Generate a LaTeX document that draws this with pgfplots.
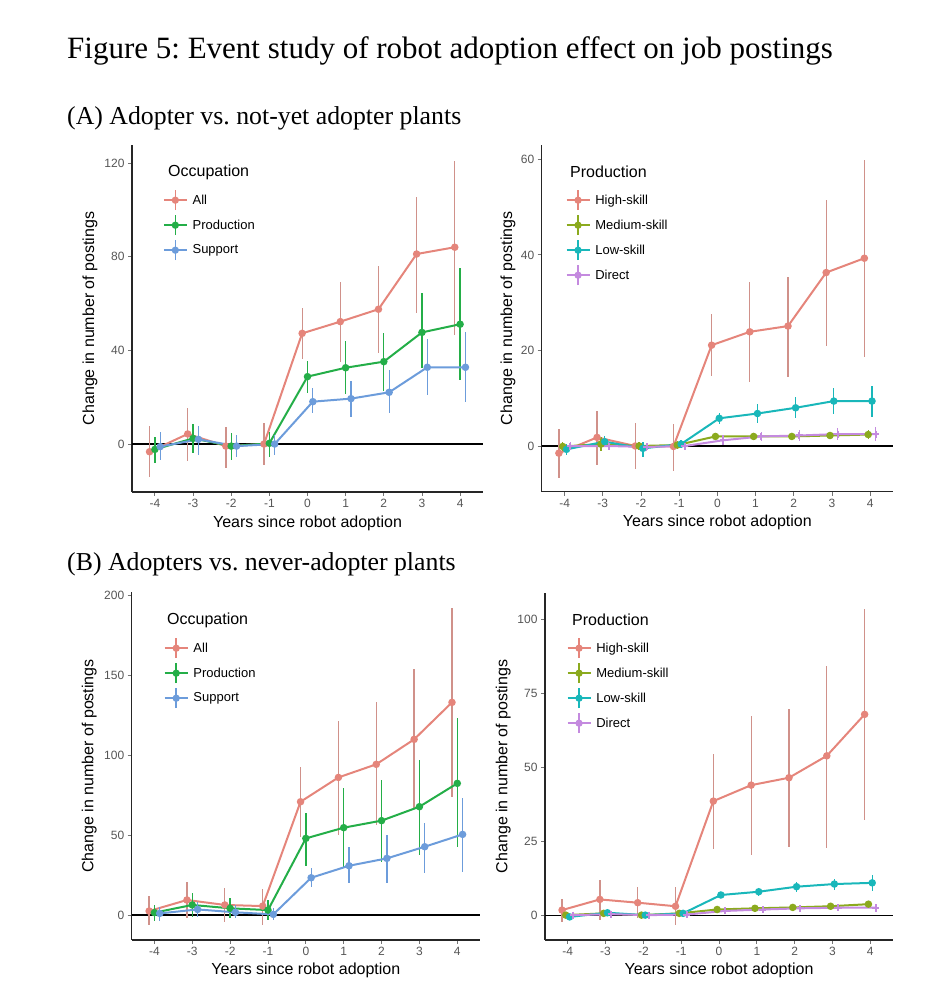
\documentclass[border=0pt]{standalone}
\usepackage{fontspec}
\setmainfont{Liberation Serif}
\newfontfamily\sansf{Liberation Sans}
\usepackage{pgfplots}
\pgfplotsset{compat=1.18}
\usepackage{pgfplotstable}
\frenchspacing

\definecolor{cRed}{HTML}{E5857B}
\definecolor{cRedE}{HTML}{D0918A}
\definecolor{cGreen}{HTML}{24AE48}
\definecolor{cBlue}{HTML}{6C9CDB}
\definecolor{cOlive}{HTML}{8BAA1E}
\definecolor{cTeal}{HTML}{19B7BA}
\definecolor{cPurple}{HTML}{C48ADF}
\definecolor{tickgray}{HTML}{555555}

% ---------------- Panel A, left ----------------
\pgfplotstableread{
t y lo hi
-4 -3.3 -14.3 7.7
-3 4.3 -7.3 15.3
-2 -0.9 -10.4 7.4
-1 0.0 -9.0 8.8
0 47.3 36.2 58.0
1 52.3 35.2 69.1
2 57.6 38.8 76.1
3 81.2 56.1 105.7
4 84.1 46.6 121.1
}\ALall
\pgfplotstableread{
t y lo hi
-4 -2.3 -8.3 3.1
-3 2.4 -3.7 8.6
-2 -0.9 -6.8 4.6
-1 0.3 -5.4 5.3
0 28.8 21.9 35.6
1 32.6 21.4 44.0
2 35.2 22.8 47.6
3 47.7 32.3 64.4
4 51.2 27.4 75.1
}\ALprod
\pgfplotstableread{
t y lo hi
-4 -1.1 -6.8 5.3
-3 2.0 -4.7 7.8
-2 -0.9 -5.4 3.8
-1 0.0 -4.7 3.8
0 18.1 13.1 23.8
1 19.4 11.7 27.1
2 22.1 13.4 31.6
3 32.8 20.9 44.7
4 32.8 18.1 48.0
}\ALsupp
% ---------------- Panel A, right ----------------
\pgfplotstableread{
t y lo hi
-4 -1.5 -6.6 3.5
-3 1.8 -4.0 7.4
-2 0.0 -4.9 4.9
-1 -0.1 -5.2 4.6
0 21.1 14.7 27.6
1 23.9 13.5 34.4
2 25.1 14.4 35.4
3 36.3 20.9 51.5
4 39.3 18.6 59.9
}\ARhigh
\pgfplotstableread{
t y lo hi
-4 -0.1 -1.1 0.9
-3 0.4 -1.0 1.8
-2 0.0 -0.8 0.8
-1 0.2 -0.6 1.0
0 2.0 1.4 2.6
1 2.0 1.4 2.6
2 2.0 1.4 2.6
3 2.2 1.5 2.9
4 2.4 1.4 3.4
}\ARmed
\pgfplotstableread{
t y lo hi
-4 -0.7 -1.9 0.4
-3 0.9 -0.1 2.0
-2 -0.5 -2.2 0.9
-1 0.4 -0.5 1.3
0 5.8 4.6 7.0
1 6.8 4.9 8.8
2 8.0 5.8 10.2
3 9.4 6.8 12.1
4 9.4 6.0 12.6
}\ARlow
\pgfplotstableread{
t y lo hi
-4 0.0 -0.8 0.8
-3 0.0 -0.8 0.8
-2 -0.2 -1.0 0.6
-1 0.0 -0.7 0.7
0 1.2 0.2 2.2
1 2.0 1.0 3.0
2 2.2 1.1 3.3
3 2.5 1.2 3.8
4 2.5 1.0 4.0
}\ARdir
% ---------------- Panel B, left ----------------
\pgfplotstableread{
t y lo hi
-4 2.5 -6.3 11.9
-3 9.4 -2.1 20.8
-2 6.3 -4.2 16.7
-1 5.6 -6.3 16.0
0 70.8 49.0 92.7
1 86.0 50.0 121.5
2 94.2 56.3 132.9
3 109.8 67.1 153.5
4 132.9 73.5 191.7
}\BLall
\pgfplotstableread{
t y lo hi
-4 1.5 -3.5 6.3
-3 6.3 -1.0 13.5
-2 4.2 -2.1 10.4
-1 3.1 -3.1 9.4
0 47.9 30.6 64.0
1 54.6 30.2 79.2
2 59.0 33.3 84.4
3 67.7 37.5 96.9
4 82.3 42.7 122.9
}\BLprod
\pgfplotstableread{
t y lo hi
-4 1.0 -3.5 5.2
-3 3.5 -1.0 8.3
-2 1.7 -2.1 6.3
-1 0.4 -3.1 4.2
0 23.3 17.7 29.2
1 30.8 19.8 42.7
2 35.4 20.2 50.0
3 42.7 26.5 57.3
4 50.4 27.1 73.3
}\BLsupp
% ---------------- Panel B, right ----------------
\pgfplotstableread{
t y lo hi
-4 1.7 -2.3 5.3
-3 5.3 -1.5 12.0
-2 4.2 -1.1 9.6
-1 3.0 -3.4 9.6
0 38.5 22.2 54.3
1 43.9 20.3 67.3
2 46.4 22.9 69.5
3 53.8 22.7 84.1
4 67.8 32.1 103.3
}\BRhigh
\pgfplotstableread{
t y lo hi
-4 0.0 -1.0 1.0
-3 0.6 -0.6 1.8
-2 0.0 -0.8 0.8
-1 0.6 -0.4 1.6
0 1.9 1.2 2.6
1 2.3 1.5 3.1
2 2.6 1.8 3.4
3 3.0 2.1 3.9
4 3.7 2.6 4.8
}\BRmed
\pgfplotstableread{
t y lo hi
-4 -0.6 -1.2 0.0
-3 0.8 -0.2 1.8
-2 0.0 -0.7 0.7
-1 0.6 -0.2 1.4
0 6.8 5.9 7.7
1 7.9 6.4 9.0
2 9.6 7.7 11.3
3 10.5 8.4 12.2
4 10.9 8.2 13.5
}\BRlow
\pgfplotstableread{
t y lo hi
-4 0.0 -0.6 0.6
-3 0.3 -0.5 1.1
-2 0.0 -0.6 0.6
-1 0.2 -0.5 0.9
0 1.4 0.6 2.2
1 1.9 1.0 2.8
2 2.3 1.3 3.3
3 2.5 1.4 3.6
4 2.5 1.2 3.8
}\BRdir

\pgfplotsset{
  evstudy/.style={
    scale only axis,
    axis x line*=bottom, axis y line*=left,
    axis line style={-, black!85, line width=1.1bp},
    xmin=-4.6, xmax=4.6,
    xtick={-4,-3,-2,-1,0,1,2,3,4},
    xticklabels={-4,-3,-2,-1,0,1,2,3,4},
    tick align=outside, major tick length=4bp,
    tick style={black!55, line width=0.8bp},
    tick label style={font=\sansf\fontsize{12bp}{14bp}\selectfont, text=tickgray},
    label style={font=\sansf\fontsize{16bp}{19bp}\selectfont},
    xlabel={Years since robot adoption},
    ylabel={Change in number of postings},
    legend cell align=left,
    legend style={draw=none, fill=none, inner sep=0pt, row sep=0pt,
      anchor=north west,
      font=\sansf\fontsize{13bp}{15bp}\selectfont,
      nodes={inner ysep=0pt, inner xsep=5bp, minimum height=25bp}},
    legend image code/.code={
      \draw[line width=1.5bp] (0bp,0bp) -- (23bp,0bp);
      \draw[line width=1.5bp] (11.5bp,-10bp) -- (11.5bp,10bp);
      \fill (11.5bp,0bp) circle (2.6bp);
    },
  },
  ser/.style={color=#1, line width=2bp, mark=*, mark size=2.7bp,
    mark options={solid, fill=#1},
    error bars/.cd, y dir=both, y explicit, error mark=none,
    error bar style={line width=1.3bp, color=#1}, /pgfplots/.cd},
  serE/.style 2 args={color=#1, line width=2bp, mark=*, mark size=2.7bp,
    mark options={solid, fill=#1},
    error bars/.cd, y dir=both, y explicit, error mark=none,
    error bar style={line width=1.3bp, color=#2}, /pgfplots/.cd},
  table/etab/.style={x expr=\thisrow{t}+#1, y=y,
    y error plus expr=\thisrow{hi}-\thisrow{y},
    y error minus expr=\thisrow{y}-\thisrow{lo}},
}

\begin{document}
\begin{tikzpicture}[x=1bp,y=1bp]
\useasboundingbox (0,0) rectangle (950,990);

\node[anchor=base west, inner sep=0, font=\fontsize{31bp}{37bp}\selectfont]
  at (67bp,931bp) {Figure 5: Event study of robot adoption effect on job postings};
\node[anchor=base west, inner sep=0, font=\fontsize{25.8bp}{30bp}\selectfont]
  at (67bp,865bp) {(A) Adopter vs. not-yet adopter plants};
\node[anchor=base west, inner sep=0, font=\fontsize{25.8bp}{30bp}\selectfont]
  at (67bp,419bp) {(B) Adopters vs. never-adopter plants};

% ===== A left =====
\begin{axis}[evstudy, at={(132bp,498bp)}, anchor=south west,
  width=351bp, height=347bp, ymin=-20.5, ymax=127.8,
  ytick={0,40,80,120}, yticklabels={0,40,80,120},
  xlabel style={at={(axis description cs:0.5,-0.089)}, anchor=center},
  ylabel style={at={(axis description cs:-0.12,0.5)}, anchor=center},
  legend style={at={(0.088,0.8775)}}]
\addplot[black, line width=1.2bp, forget plot] coordinates {(-4.6,0) (4.6,0)};
\addplot[serE={cRed}{cRedE}] table[etab=-0.14] {\ALall};
\addplot[ser=cGreen] table[etab=0] {\ALprod};
\addplot[ser=cBlue] table[etab=0.14] {\ALsupp};
\legend{All,Production,Support}
\end{axis}
\node[anchor=west, inner sep=0, font=\sansf\fontsize{16bp}{19bp}\selectfont] at (168bp,818bp) {Occupation};

% ===== A right =====
\begin{axis}[evstudy, at={(541.7bp,498.3bp)}, anchor=south west,
  width=351.3bp, height=346.7bp, ymin=-9.56, ymax=63.0,
  ytick={0,20,40,60}, yticklabels={0,20,40,60},
  xlabel style={at={(axis description cs:0.5,-0.089)}, anchor=center},
  ylabel style={at={(axis description cs:-0.096,0.5)}, anchor=center},
  legend style={at={(0.068,0.8774)}}]
\addplot[black, line width=1.2bp, forget plot] coordinates {(-4.6,0) (4.6,0)};
\addplot[serE={cRed}{cRedE}] table[etab=-0.15] {\ARhigh};
\addplot[ser=cOlive] table[etab=-0.05] {\ARmed};
\addplot[ser=cTeal] table[etab=0.05] {\ARlow};
\addplot[ser=cPurple, mark=+, mark size=3.5bp] table[etab=0.15] {\ARdir};
\legend{High-skill,Medium-skill,Low-skill,Direct}
\end{axis}
\node[anchor=west, inner sep=0, font=\sansf\fontsize{16bp}{19bp}\selectfont] at (570bp,818bp) {Production};

% ===== B left =====
\begin{axis}[evstudy, at={(131.7bp,50bp)}, anchor=south west,
  width=348.3bp, height=348bp, ymin=-15.6, ymax=201.9,
  ytick={0,50,100,150,200}, yticklabels={0,50,100,150,200},
  xlabel style={at={(axis description cs:0.5,-0.086)}, anchor=center},
  ylabel style={at={(axis description cs:-0.122,0.5)}, anchor=center},
  legend style={at={(0.092,0.875)}}]
\addplot[black, line width=1.2bp, forget plot] coordinates {(-4.6,0) (4.6,0)};
\addplot[serE={cRed}{cRedE}] table[etab=-0.14] {\BLall};
\addplot[ser=cGreen] table[etab=0] {\BLprod};
\addplot[ser=cBlue] table[etab=0.14] {\BLsupp};
\legend{All,Production,Support}
\end{axis}
\node[anchor=west, inner sep=0, font=\sansf\fontsize{16bp}{19bp}\selectfont] at (167bp,370bp) {Occupation};

% ===== B right =====
\begin{axis}[evstudy, at={(545bp,50bp)}, anchor=south west,
  width=348bp, height=347.3bp, ymin=-8.4, ymax=108.9,
  ytick={0,25,50,75,100}, yticklabels={0,25,50,75,100},
  xlabel style={at={(axis description cs:0.5,-0.086)}, anchor=center},
  ylabel style={at={(axis description cs:-0.12,0.5)}, anchor=center},
  legend style={at={(0.062,0.8768)}}]
\addplot[black, line width=1.2bp, forget plot] coordinates {(-4.6,0) (4.6,0)};
\addplot[serE={cRed}{cRedE}] table[etab=-0.15] {\BRhigh};
\addplot[ser=cOlive] table[etab=-0.05] {\BRmed};
\addplot[ser=cTeal] table[etab=0.05] {\BRlow};
\addplot[ser=cPurple, mark=+, mark size=3.5bp] table[etab=0.15] {\BRdir};
\legend{High-skill,Medium-skill,Low-skill,Direct}
\end{axis}
\node[anchor=west, inner sep=0, font=\sansf\fontsize{16bp}{19bp}\selectfont] at (572bp,370bp) {Production};
\end{tikzpicture}
\end{document}
